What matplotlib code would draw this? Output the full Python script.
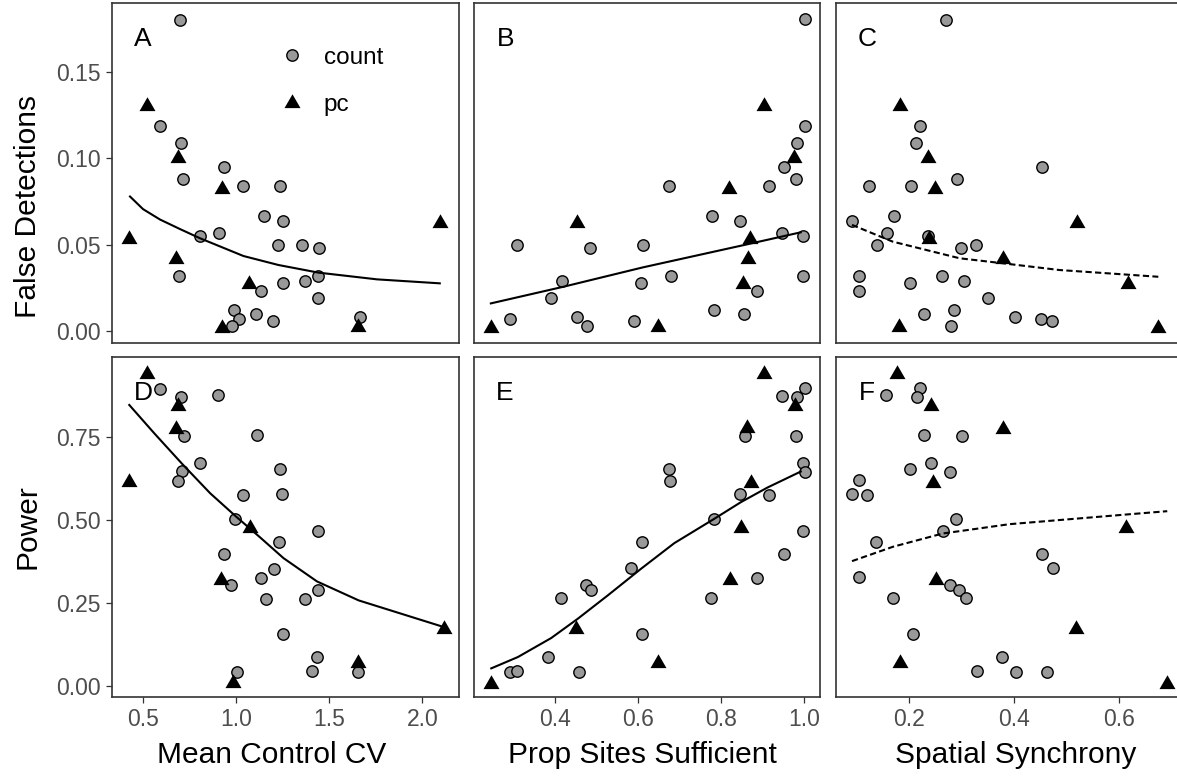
import matplotlib
matplotlib.use("Agg")
import matplotlib.pyplot as plt

plt.rcParams['font.family'] = ['Liberation Sans', 'DejaVu Sans']

# ---- data ----
# panel A: mean control CV vs false detections
a_cnt_x = [0.70, 0.591, 0.704, 0.713, 0.934, 1.038, 1.235, 1.149, 1.251, 0.805, 0.909, 1.227, 1.355,
           1.446, 0.692, 1.441, 1.251, 1.369, 1.134, 1.437, 0.988, 1.108, 1.197, 1.016, 0.977, 1.665]
a_cnt_y = [0.180, 0.1187, 0.1087, 0.0878, 0.0948, 0.0836, 0.0836, 0.0666, 0.0639, 0.0548, 0.0569, 0.0498, 0.0498,
           0.0479, 0.0320, 0.0318, 0.0276, 0.0290, 0.0230, 0.0189, 0.0120, 0.0100, 0.0058, 0.0068, 0.0029, 0.0081]
a_pc_x = [0.52, 0.690, 0.923, 0.426, 0.679, 1.068, 0.926, 1.656, 2.095]
a_pc_y = [0.1301, 0.1000, 0.0823, 0.0533, 0.0417, 0.0272, 0.0016, 0.0022, 0.0626]
a_fit_x = [0.430, 0.50, 0.591, 0.70, 0.805, 1.039, 1.227, 1.441, 1.756, 2.093]
a_fit_y = [0.0778, 0.0705, 0.0645, 0.0589, 0.0537, 0.0434, 0.0382, 0.0338, 0.0299, 0.0276]

# panel B: prop sites sufficient vs false detections
b_cnt_x = [1.001, 1.001, 0.982, 0.950, 0.980, 0.674, 0.914, 0.778, 0.844, 0.309, 0.484, 0.611, 0.946,
           0.996, 0.417, 0.608, 0.678, 0.996, 0.391, 0.887, 0.783, 0.855, 0.292, 0.453, 0.477, 0.590]
b_cnt_y = [0.1805, 0.1187, 0.1087, 0.0948, 0.0878, 0.0836, 0.0836, 0.0668, 0.0639, 0.0498, 0.0479, 0.0498, 0.0569,
           0.0548, 0.0290, 0.0276, 0.0320, 0.0320, 0.0189, 0.0230, 0.0120, 0.0100, 0.0068, 0.0081, 0.0029, 0.0058]
b_pc_x = [0.902, 0.975, 0.819, 0.453, 0.868, 0.865, 0.851, 0.246, 0.649]
b_pc_y = [0.1301, 0.1000, 0.0823, 0.0624, 0.0533, 0.0417, 0.0272, 0.0016, 0.0022]
b_fit_x = [0.246, 0.42, 0.611, 0.863, 0.991]
b_fit_y = [0.0160, 0.0256, 0.0368, 0.0502, 0.0571]

# panel C: spatial synchrony vs false detections
c_cnt_x = [0.271, 0.2215, 0.213, 0.453, 0.291, 0.123, 0.204, 0.171, 0.0914, 0.158, 0.139, 0.299, 0.328,
           0.104, 0.202, 0.263, 0.305, 0.104, 0.351, 0.286, 0.228, 0.401, 0.451, 0.472, 0.279, 0.236]
c_cnt_y = [0.1800, 0.1187, 0.1087, 0.0948, 0.0878, 0.0836, 0.0836, 0.0668, 0.0639, 0.0569, 0.0498, 0.0479, 0.0498,
           0.0318, 0.0278, 0.0318, 0.0290, 0.0232, 0.0189, 0.0120, 0.0100, 0.0081, 0.0070, 0.0058, 0.0029, 0.0548]
c_pc_x = [0.183, 0.236, 0.2495, 0.2375, 0.519, 0.378, 0.617, 0.180, 0.674]
c_pc_y = [0.1301, 0.1000, 0.0823, 0.0533, 0.0624, 0.0417, 0.0272, 0.0022, 0.0016]
c_fit_x = [0.0914, 0.169, 0.296, 0.378, 0.486, 0.674]
c_fit_y = [0.0614, 0.0517, 0.0421, 0.0392, 0.0353, 0.0314]

# panel D: mean control CV vs power
d_cnt_x = [0.591, 0.704, 0.905, 0.720, 1.111, 0.805, 0.710, 0.690, 1.237, 1.039, 1.247, 0.996, 1.437,
           1.228, 0.937, 1.204, 1.133, 0.973, 1.160, 1.367, 1.441, 1.254, 1.432, 1.405, 1.654, 1.004]
d_cnt_y = [0.894, 0.868, 0.874, 0.752, 0.755, 0.670, 0.647, 0.617, 0.653, 0.574, 0.577, 0.504, 0.466,
           0.434, 0.397, 0.353, 0.326, 0.303, 0.263, 0.263, 0.288, 0.158, 0.0894, 0.0472, 0.0442, 0.0422]
d_pc_x = [0.523, 0.686, 0.679, 0.425, 1.075, 0.919, 0.985, 1.656, 2.117]
d_pc_y = [0.939, 0.843, 0.773, 0.613, 0.475, 0.319, 0.0105, 0.0707, 0.171]
d_fit_x = [0.426, 0.560, 0.710, 0.860, 0.995, 1.129, 1.254, 1.434, 1.658, 2.115]
d_fit_y = [0.845, 0.760, 0.668, 0.580, 0.512, 0.447, 0.385, 0.315, 0.258, 0.178]

# panel E: prop sites sufficient vs power
e_cnt_x = [1.001, 0.945, 0.982, 0.857, 0.979, 0.996, 1.001, 0.674, 0.677, 0.845, 0.914, 0.783, 0.996,
           0.609, 0.950, 0.583, 0.887, 0.475, 0.486, 0.414, 0.775, 0.609, 0.383, 0.291, 0.309, 0.457]
e_cnt_y = [0.896, 0.873, 0.868, 0.753, 0.752, 0.672, 0.645, 0.653, 0.617, 0.577, 0.574, 0.504, 0.466,
           0.434, 0.397, 0.355, 0.326, 0.305, 0.288, 0.265, 0.265, 0.158, 0.0894, 0.0422, 0.0472, 0.0442]
e_pc_x = [0.902, 0.977, 0.862, 0.871, 0.847, 0.821, 0.451, 0.647, 0.246]
e_pc_y = [0.937, 0.841, 0.776, 0.610, 0.475, 0.319, 0.171, 0.0707, 0.0075]
e_fit_x = [0.247, 0.311, 0.391, 0.455, 0.527, 0.607, 0.687, 0.783, 0.847, 0.911, 0.991]
e_fit_y = [0.054, 0.088, 0.145, 0.203, 0.273, 0.353, 0.430, 0.503, 0.553, 0.597, 0.645]

# panel F: spatial synchrony vs power
f_cnt_x = [0.156, 0.221, 0.215, 0.228, 0.301, 0.202, 0.242, 0.277, 0.104, 0.0914, 0.1206, 0.290, 0.265,
           0.137, 0.453, 0.473, 0.104, 0.278, 0.294, 0.308, 0.169, 0.207, 0.377, 0.329, 0.404, 0.462]
f_cnt_y = [0.876, 0.896, 0.868, 0.755, 0.752, 0.653, 0.672, 0.645, 0.620, 0.577, 0.574, 0.504, 0.466,
           0.434, 0.397, 0.355, 0.328, 0.305, 0.288, 0.265, 0.265, 0.158, 0.0894, 0.0472, 0.0442, 0.0422]
f_pc_x = [0.1766, 0.242, 0.378, 0.245, 0.613, 0.251, 0.518, 0.182, 0.691]
f_pc_y = [0.937, 0.843, 0.773, 0.610, 0.475, 0.319, 0.171, 0.0707, 0.0075]
f_fit_x = [0.0914, 0.169, 0.264, 0.391, 0.613, 0.691]
f_fit_y = [0.376, 0.419, 0.459, 0.487, 0.516, 0.526]

panel_letters = ['A', 'B', 'C', 'D', 'E', 'F']
x_titles = ['Mean Control CV', 'Prop Sites Sufficient', 'Spatial Synchrony']
y_titles = ['False Detections', 'Power']
x_ticks = [[0.5, 1.0, 1.5, 2.0], [0.4, 0.6, 0.8, 1.0], [0.2, 0.4, 0.6]]
y_ticks = [[0.00, 0.05, 0.10, 0.15], [0.00, 0.25, 0.50, 0.75]]
x_limits = [(0.3333, 2.1935), (0.2055, 1.0385), (0.061, 0.720)]
y_limits = [(-0.0069, 0.1897), (-0.032, 0.989)]

panels = [
    (a_cnt_x, a_cnt_y, a_pc_x, a_pc_y, a_fit_x, a_fit_y, '-'),
    (b_cnt_x, b_cnt_y, b_pc_x, b_pc_y, b_fit_x, b_fit_y, '-'),
    (c_cnt_x, c_cnt_y, c_pc_x, c_pc_y, c_fit_x, c_fit_y, '--'),
    (d_cnt_x, d_cnt_y, d_pc_x, d_pc_y, d_fit_x, d_fit_y, '-'),
    (e_cnt_x, e_cnt_y, e_pc_x, e_pc_y, e_fit_x, e_fit_y, '-'),
    (f_cnt_x, f_cnt_y, f_pc_x, f_pc_y, f_fit_x, f_fit_y, '--'),
]

# equilateral triangle centred on its centroid, like ggplot's shape 17
tri = [(-1.0, -0.577), (1.0, -0.577), (0.0, 1.155)]

W, H = 1177, 778
fig = plt.figure(figsize=(W / 100, H / 100), dpi=100)

col_left = [112, 474, 836]
col_w = 346.5
row_top = [3, 357]
row_h = 340

edge = '#333333'
for i, (cx, cy, px, py, fx, fy, ls) in enumerate(panels):
    r, c = divmod(i, 3)
    ax = fig.add_axes([col_left[c] / W, (H - row_top[r] - row_h) / H, col_w / W, row_h / H])
    ax.plot(cx, cy, 'o', ms=8.2, mfc='#999999', mec='black', mew=1.0, ls='none', zorder=3, label='count')
    ax.plot(px, py, marker=tri, ms=13.3, color='black', mew=0, ls='none', zorder=3, label='pc')
    if ls == '--':
        ax.plot(fx, fy, color='black', lw=1.5, ls=(0, (3, 1.6)), zorder=4)
    else:
        ax.plot(fx, fy, color='black', lw=1.5, zorder=4)

    ax.set_xlim(x_limits[c])
    ax.set_ylim(y_limits[r])
    ax.set_xticks(x_ticks[c])
    ax.set_yticks(y_ticks[r])
    ax.xaxis.set_major_formatter(plt.FormatStrFormatter('%.1f'))
    ax.yaxis.set_major_formatter(plt.FormatStrFormatter('%.2f'))
    for sp in ax.spines.values():
        sp.set_color(edge)
        sp.set_linewidth(1.2)
    ax.tick_params(direction='out', length=4, width=0.9, color=edge,
                   labelsize=16.5, labelcolor='#4D4D4D', pad=4)
    if r == 0:
        ax.tick_params(axis='x', bottom=False, labelbottom=False)
    if c != 0:
        ax.tick_params(axis='y', left=False, labelleft=False)

    ax.text(0.09, 0.893, panel_letters[i], transform=ax.transAxes, fontsize=19,
            ha='center', va='center', zorder=2)

    if i == 0:
        ax.legend(loc='upper left', bbox_to_anchor=(0.485, 0.872), frameon=False,
                  fontsize=17.5, handlelength=1.0, handletextpad=0.8, labelspacing=1.05,
                  borderpad=0, borderaxespad=0)

# axis titles
x_title_cx = [272, 642, 1016]
for cx_px, t in zip(x_title_cx, x_titles):
    fig.text(cx_px / W, 1 - 755 / H, t, fontsize=21.5, ha='center', va='center')
y_title_cy = [207, 527]
for cy_px, t in zip(y_title_cy, y_titles):
    fig.text(28 / W, 1 - cy_px / H, t, fontsize=21.5, ha='center', va='center', rotation=90)

fig.savefig('out.png', dpi=100)
